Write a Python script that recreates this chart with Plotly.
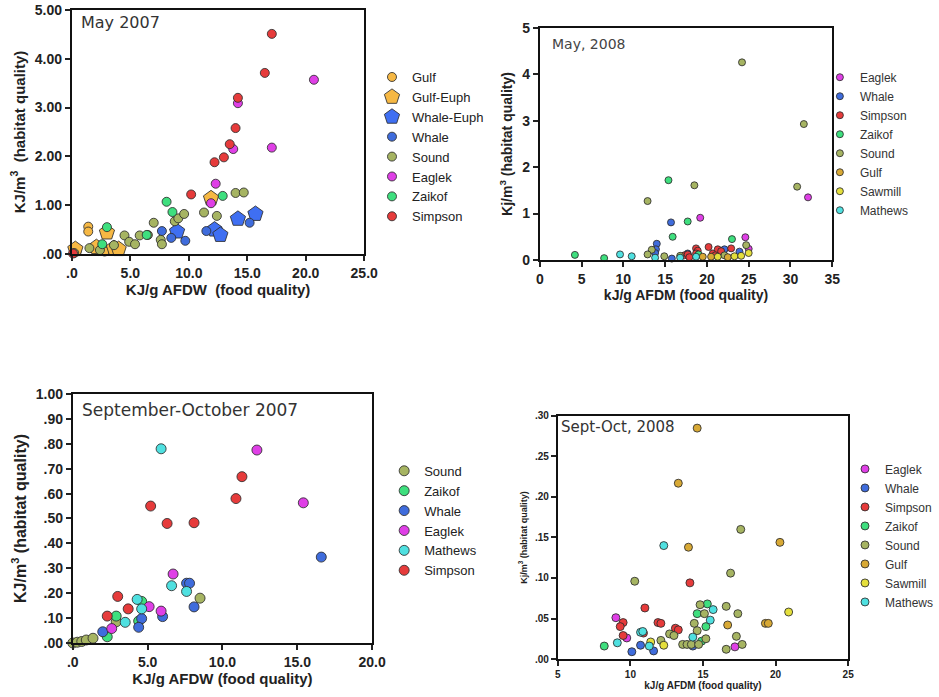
import plotly.graph_objects as go

FONT = "Liberation Sans, Arial, Helvetica, sans-serif"
TFONT = "DejaVu Sans, Verdana, sans-serif"

# ---------------- Panel A: May 2007 ----------------
may07_gulf_x = [1.4, 1.4, 0.4, 1.8, 2.3, 3.7, 4.0, 2.8]
may07_gulf_y = [0.56, 0.46, 0.05, 0.12, 0.06, 0.12, 0.08, 0.05]
may07_gulfeuph_x = [0.3, 2.1, 3.0, 3.6, 4.0, 11.9]
may07_gulfeuph_y = [0.10, 0.14, 0.44, 0.12, 0.10, 1.14]
may07_whaleeuph_x = [9.0, 12.2, 12.7, 14.2, 15.7]
may07_whaleeuph_y = [0.46, 0.50, 0.39, 0.72, 0.82]
may07_whale_x = [7.7, 8.5, 9.7, 11.5, 15.2]
may07_whale_y = [0.47, 0.33, 0.27, 0.47, 0.64]
may07_sound_x = [0.2, 1.5, 2.4, 3.6, 4.5, 4.9, 5.4, 5.8, 6.5, 7.0, 7.6, 7.7, 8.8, 9.1, 9.6, 11.3, 12.4, 14.0, 14.7]
may07_sound_y = [0.02, 0.12, 0.08, 0.18, 0.38, 0.25, 0.20, 0.38, 0.39, 0.64, 0.29, 0.20, 0.67, 0.73, 0.82, 0.85, 0.78, 1.25, 1.26]
may07_eaglek_x = [20.7, 17.1, 13.8, 14.2, 12.3, 11.9]
may07_eaglek_y = [3.57, 2.18, 2.15, 3.09, 1.44, 1.04]
may07_zaikof_x = [3.0, 2.6, 6.4, 8.1, 8.6, 12.9]
may07_zaikof_y = [0.55, 0.20, 0.39, 1.07, 0.86, 1.19]
may07_simpson_x = [0.1, 10.2, 12.2, 13.0, 13.5, 14.0, 14.2, 16.5, 17.1]
may07_simpson_y = [0.01, 1.22, 1.88, 1.98, 2.25, 2.58, 3.20, 3.71, 4.51]

# ---------------- Panel B: May 2008 ----------------
may08_eaglek_x = [19.2, 24.6, 25.0, 32.1]
may08_eaglek_y = [0.91, 0.49, 0.24, 1.35]
may08_whale_x = [15.7, 14.0, 13.9, 13.8, 15.8, 17.7, 22.1, 23.9]
may08_whale_y = [0.81, 0.35, 0.23, 0.15, 0.03, 0.14, 0.23, 0.18]
may08_simpson_x = [17.3, 17.7, 17.9, 18.7, 18.9, 18.7, 20.2, 20.7, 21.3, 21.0, 22.9, 21.7]
may08_simpson_y = [0.10, 0.12, 0.06, 0.25, 0.20, 0.14, 0.28, 0.14, 0.23, 0.10, 0.25, 0.19]
may08_zaikof_x = [4.2, 7.7, 15.4, 17.7, 15.9, 23.0, 19.0]
may08_zaikof_y = [0.11, 0.04, 1.72, 0.83, 0.50, 0.45, 0.12]
may08_sound_x = [24.2, 31.6, 30.8, 12.9, 18.5, 24.7, 13.4, 12.9, 14.9, 22.1, 16.8]
may08_sound_y = [4.26, 2.93, 1.58, 1.27, 1.61, 0.32, 0.22, 0.12, 0.08, 0.10, 0.09]
may08_gulf_x = [20.5, 22.5, 19.5]
may08_gulf_y = [0.07, 0.06, 0.07]
may08_sawmill_x = [23.3, 24.1, 25.0, 21.3]
may08_sawmill_y = [0.08, 0.09, 0.15, 0.07]
may08_mathews_x = [9.6, 11.0, 13.8, 16.8, 18.7]
may08_mathews_y = [0.12, 0.08, 0.05, 0.05, 0.07]

# ---------------- Panel C: September-October 2007 ----------------
so07_sound_x = [0.0, 0.3, 0.6, 0.9, 1.35, 8.5, 2.9]
so07_sound_y = [0.0, 0.003, 0.006, 0.012, 0.019, 0.18, 0.085]
so07_zaikof_x = [4.6, 2.9, 4.4, 2.3]
so07_zaikof_y = [0.167, 0.108, 0.088, 0.025]
so07_whale_x = [16.6, 7.6, 7.8, 8.1, 6.0, 4.6, 4.4, 2.0]
so07_whale_y = [0.345, 0.24, 0.24, 0.145, 0.106, 0.098, 0.063, 0.045]
so07_eaglek_x = [12.3, 15.4, 6.7, 5.1, 5.9, 2.6]
so07_eaglek_y = [0.775, 0.563, 0.277, 0.146, 0.128, 0.058]
so07_mathews_x = [5.9, 6.6, 7.6, 4.3, 4.6, 3.5]
so07_mathews_y = [0.78, 0.23, 0.207, 0.175, 0.137, 0.083]
so07_simpson_x = [5.2, 6.3, 8.1, 10.9, 11.3, 3.0, 3.7, 2.3]
so07_simpson_y = [0.55, 0.48, 0.483, 0.58, 0.668, 0.187, 0.137, 0.108]

# ---------------- Panel D: Sept-Oct 2008 ----------------
so08_eaglek_x = [9.0, 9.75, 17.2]
so08_eaglek_y = [0.051, 0.026, 0.015]
so08_whale_x = [10.1, 10.7, 11.6, 14.3]
so08_whale_y = [0.009, 0.017, 0.010, 0.016]
so08_simpson_x = [9.5, 9.3, 9.5, 11.0, 10.9, 11.9, 12.1, 13.1, 13.3, 14.1]
so08_simpson_y = [0.045, 0.040, 0.029, 0.063, 0.032, 0.045, 0.044, 0.038, 0.036, 0.094]
so08_zaikof_x = [8.2, 14.6, 15.3, 15.2, 14.9]
so08_zaikof_y = [0.016, 0.056, 0.068, 0.040, 0.022]
so08_sound_x = [10.3, 17.6, 16.9, 16.6, 17.4, 12.1, 12.7, 13.0, 13.6, 13.9, 14.2, 14.4, 14.6,
                14.8, 15.1, 15.2, 14.7, 16.6, 17.3, 17.7]
so08_sound_y = [0.096, 0.160, 0.106, 0.065, 0.056, 0.023, 0.031, 0.029, 0.018, 0.018, 0.018, 0.044, 0.035,
                0.067, 0.056, 0.025, 0.018, 0.012, 0.028, 0.018]
so08_gulf_x = [14.6, 13.3, 20.3, 14.0, 19.3, 19.5, 16.7]
so08_gulf_y = [0.285, 0.217, 0.144, 0.138, 0.044, 0.044, 0.042]
so08_sawmill_x = [20.9, 11.4, 12.3]
so08_sawmill_y = [0.058, 0.021, 0.017]
so08_mathews_x = [12.3, 9.1, 10.7, 10.85, 11.3, 14.3, 15.7, 15.5]
so08_mathews_y = [0.140, 0.020, 0.033, 0.034, 0.016, 0.027, 0.061, 0.048]

# tick labels
may07_xticks = [".0", "5.0", "10.0", "15.0", "20.0", "25.0"]
may07_yticks = [".00", "1.00", "2.00", "3.00", "4.00", "5.00"]
may08_xticks = ["0", "5", "10", "15", "20", "25", "30", "35"]
may08_yticks = ["0", "1", "2", "3", "4", "5"]
so07_xticks = [".0", "5.0", "10.0", "15.0", "20.0"]
so07_yticks = [".00", ".10", ".20", ".30", ".40", ".50", ".60", ".70", ".80", ".90", "1.00"]
so08_xticks = ["5", "10", "15", "20", "25"]
so08_yticks = [".00", ".05", ".10", ".15", ".20", ".25", ".30"]

# colours
C_GULF = "#F6B844"
C_GULF2 = "#D8A935"
C_SAWMILL = "#E4DF3C"
C_WHALE = "#3F6CDC"
C_WHALEEUPH = "#3F6FF2"
C_SOUND = "#A6B462"
C_EAGLEK = "#DF3FE6"
C_ZAIKOF = "#3EDF7E"
C_SIMPSON = "#E63B3B"
C_MATHEWS = "#4FE0E0"
OUTLINE = "rgba(45,45,45,0.85)"

fig = go.Figure()


def add(xs, ys, name, color, ax, legend, size, symbol="circle"):
    fig.add_trace(go.Scatter(
        x=xs, y=ys, mode="markers", name=name,
        xaxis="x" + ax, yaxis="y" + ax, legend=legend,
        cliponaxis=False,
        marker=dict(color=color, size=size, symbol=symbol,
                    line=dict(color=OUTLINE, width=1)),
    ))


# Panel A
add(may07_gulf_x, may07_gulf_y, "Gulf", C_GULF, "", "legend", 9)
add(may07_gulfeuph_x, may07_gulfeuph_y, "Gulf-Euph", C_GULF, "", "legend", 16, "pentagon")
add(may07_whaleeuph_x, may07_whaleeuph_y, "Whale-Euph", C_WHALEEUPH, "", "legend", 16, "pentagon")
add(may07_whale_x, may07_whale_y, "Whale", C_WHALE, "", "legend", 9)
add(may07_sound_x, may07_sound_y, "Sound", C_SOUND, "", "legend", 9)
add(may07_eaglek_x, may07_eaglek_y, "Eaglek", C_EAGLEK, "", "legend", 9)
add(may07_zaikof_x, may07_zaikof_y, "Zaikof", C_ZAIKOF, "", "legend", 9)
add(may07_simpson_x, may07_simpson_y, "Simpson", C_SIMPSON, "", "legend", 9)

# Panel B
add(may08_eaglek_x, may08_eaglek_y, "Eaglek", C_EAGLEK, "2", "legend2", 7)
add(may08_whale_x, may08_whale_y, "Whale", C_WHALE, "2", "legend2", 7)
add(may08_simpson_x, may08_simpson_y, "Simpson", C_SIMPSON, "2", "legend2", 7)
add(may08_zaikof_x, may08_zaikof_y, "Zaikof", C_ZAIKOF, "2", "legend2", 7)
add(may08_sound_x, may08_sound_y, "Sound", C_SOUND, "2", "legend2", 7)
add(may08_gulf_x, may08_gulf_y, "Gulf", C_GULF2, "2", "legend2", 7)
add(may08_sawmill_x, may08_sawmill_y, "Sawmill", C_SAWMILL, "2", "legend2", 7)
add(may08_mathews_x, may08_mathews_y, "Mathews", C_MATHEWS, "2", "legend2", 7)

# Panel C
add(so07_sound_x, so07_sound_y, "Sound", C_SOUND, "3", "legend3", 10)
add(so07_zaikof_x, so07_zaikof_y, "Zaikof", C_ZAIKOF, "3", "legend3", 10)
add(so07_whale_x, so07_whale_y, "Whale", C_WHALE, "3", "legend3", 10)
add(so07_eaglek_x, so07_eaglek_y, "Eaglek", C_EAGLEK, "3", "legend3", 10)
add(so07_mathews_x, so07_mathews_y, "Mathews", C_MATHEWS, "3", "legend3", 10)
add(so07_simpson_x, so07_simpson_y, "Simpson", C_SIMPSON, "3", "legend3", 10)

# Panel D
add(so08_eaglek_x, so08_eaglek_y, "Eaglek", C_EAGLEK, "4", "legend4", 8)
add(so08_whale_x, so08_whale_y, "Whale", C_WHALE, "4", "legend4", 8)
add(so08_simpson_x, so08_simpson_y, "Simpson", C_SIMPSON, "4", "legend4", 8)
add(so08_zaikof_x, so08_zaikof_y, "Zaikof", C_ZAIKOF, "4", "legend4", 8)
add(so08_sound_x, so08_sound_y, "Sound", C_SOUND, "4", "legend4", 8)
add(so08_gulf_x, so08_gulf_y, "Gulf", C_GULF2, "4", "legend4", 8)
add(so08_sawmill_x, so08_sawmill_y, "Sawmill", C_SAWMILL, "4", "legend4", 8)
add(so08_mathews_x, so08_mathews_y, "Mathews", C_MATHEWS, "4", "legend4", 8)


def axis(domain, rng, tickvals, ticktext, tsize, title, titlesize, standoff, anchor, lw=2):
    return dict(
        domain=domain, range=rng, anchor=anchor,
        tickvals=tickvals, ticktext=ticktext,
        tickfont=dict(family=FONT, size=tsize, color="#222", weight="bold"),
        ticks="outside", ticklen=5, tickwidth=1.5, tickcolor="#222",
        showline=True, linecolor="#111", linewidth=lw, mirror=True,
        showgrid=False, zeroline=False, automargin=False,
        title=dict(text=title, font=dict(family=FONT, size=titlesize, color="#222", weight="bold"),
                   standoff=standoff),
    )


NB = "\u00a0"
fig.update_layout(
    width=939, height=697,
    margin=dict(l=0, r=0, t=0, b=0),
    paper_bgcolor="white", plot_bgcolor="white",
    font=dict(family=FONT, color="#222"),
    xaxis=axis([0.0767, 0.3887], [0, 25], [0, 5, 10, 15, 20, 25], may07_xticks, 14,
               "KJ/g AFDW" + NB + NB + "(food quality)", 15, 2, "y"),
    yaxis=axis([0.6356, 0.9857], [0, 5], [0, 1, 2, 3, 4, 5], may07_yticks, 14,
               "KJ/m<sup>3</sup>" + NB + NB + "(habitat quality)", 15, 6, "x"),
    xaxis2=axis([0.5761, 0.8882], [0, 35], [0, 5, 10, 15, 20, 25, 30, 35], may08_xticks, 14,
                "kJ/g AFDM (food quality)", 14, 4, "y2"),
    yaxis2=axis([0.6270, 0.9598], [0, 5], [0, 1, 2, 3, 4, 5], may08_yticks, 14,
                "Kj/m<sup>3</sup> (habitat quality)", 14, 6, "x2"),
    xaxis3=axis([0.0777, 0.3972], [0, 20], [0, 5, 10, 15, 20], so07_xticks, 14,
                "KJ/g AFDW (food quality)", 15, 4, "y3"),
    yaxis3=axis([0.0775, 0.4347], [0, 1], [0, .1, .2, .3, .4, .5, .6, .7, .8, .9, 1.0], so07_yticks, 14,
                "KJ/m<sup>3</sup> (habitat quality)", 16, 5, "x3"),
    xaxis4=axis([0.5953, 0.9052], [5, 25], [5, 10, 15, 20, 25], so08_xticks, 10,
                "kJ/g AFDM (food quality)", 10, 3, "y4"),
    yaxis4=axis([0.0545, 0.4032], [0, 0.30], [0, .05, .10, .15, .20, .25, .30], so08_yticks, 10,
                "Kj/m<sup>3</sup> (habitat quality)", 9, 6, "x4"),
    legend=dict(x=0.397, y=0.911, xanchor="left", yanchor="top", bgcolor="rgba(0,0,0,0)",
                font=dict(family=FONT, size=13, color="#222"), itemsizing="trace"),
    legend2=dict(x=0.875, y=0.910, xanchor="left", yanchor="top", bgcolor="rgba(0,0,0,0)",
                 font=dict(family=FONT, size=12, color="#333"), itemsizing="trace"),
    legend3=dict(x=0.410, y=0.346, xanchor="left", yanchor="top", bgcolor="rgba(0,0,0,0)",
                 font=dict(family=FONT, size=13, color="#222"), itemsizing="trace"),
    legend4=dict(x=0.902, y=0.348, xanchor="left", yanchor="top", bgcolor="rgba(0,0,0,0)",
                 font=dict(family=FONT, size=12, color="#333"), itemsizing="trace"),
    annotations=[
        dict(text="May 2007", xref="x domain", yref="y domain", x=0.025, y=0.995,
             xanchor="left", yanchor="top", showarrow=False,
             font=dict(family=TFONT, size=16, color="#333")),
        dict(text="May, 2008", xref="x2 domain", yref="y2 domain", x=0.035, y=0.975,
             xanchor="left", yanchor="top", showarrow=False,
             font=dict(family=TFONT, size=14, color="#444")),
        dict(text="September-October 2007", xref="x3 domain", yref="y3 domain", x=0.025, y=0.985,
             xanchor="left", yanchor="top", showarrow=False,
             font=dict(family=TFONT, size=17, color="#333")),
        dict(text="Sept-Oct, 2008", xref="x4 domain", yref="y4 domain", x=0.005, y=1.0,
             xanchor="left", yanchor="top", showarrow=False,
             font=dict(family=TFONT, size=15, color="#333")),
    ],
)

fig.write_html(
    "out.html",
    config={"displayModeBar": False},
    post_script="document.body.style.margin='0';document.body.style.overflow='hidden';",
)
